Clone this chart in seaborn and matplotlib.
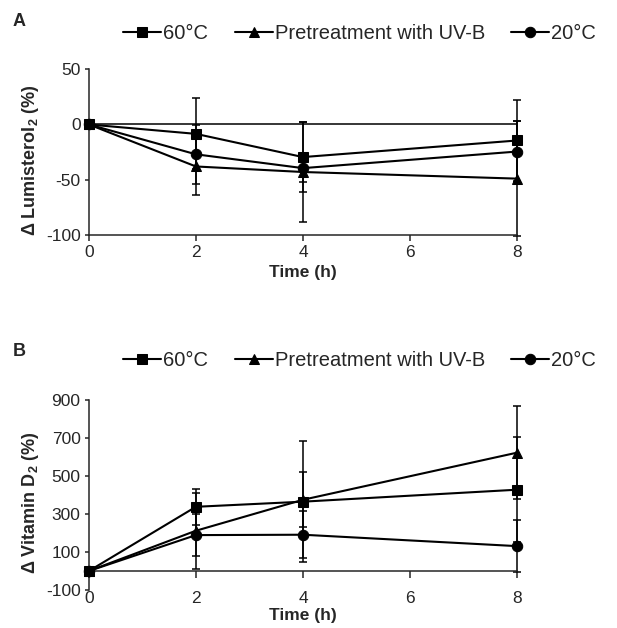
import numpy as np
import pandas as pd
import matplotlib
matplotlib.use('Agg')
import matplotlib.pyplot as plt
import seaborn as sns

times = [0, 2, 4, 8]
series = ['60°C', 'Pretreatment with UV-B', '20°C']

# panel A: change of lumisterol2 (%)
lumi_60 = [0, -8.5, -29.5, -14.5]
lumi_60_err = [0, 32, 31.5, 37]
lumi_uvb = [0, -38, -43, -49]
lumi_uvb_err = [0, 26, 45, 52]
lumi_20 = [0, -27, -39.5, -24.5]
lumi_20_err = [0, 26.5, 13, 28]

# panel B: change of vitamin D2 (%)
vitd_60 = [0, 338, 365, 428]
vitd_60_err = [0, 95, 318, 275]
vitd_uvb = [0, 212, 375, 623]
vitd_uvb_err = [0, 200, 145, 246]
vitd_20 = [0, 189, 191, 131]
vitd_20_err = [0, 109, 125, 136]

sns.set_style('ticks')
plt.rcParams['font.family'] = ['Liberation Sans', 'DejaVu Sans']
plt.rcParams['axes.unicode_minus'] = False
plt.rcParams['mathtext.fontset'] = 'custom'
plt.rcParams['mathtext.rm'] = 'Liberation Sans'
plt.rcParams['mathtext.bf'] = 'Liberation Sans:bold'

markers = {'60°C': 's', 'Pretreatment with UV-B': '^', '20°C': 'o'}


def long_df(vals, errs):
    rows = []
    for name, v, e in zip(series, vals, errs):
        for t, y, err in zip(times, v, e):
            rows.append({'time': t, 'value': y, 'err': err, 'series': name})
    return pd.DataFrame(rows)


def draw_panel(ax, df):
    for name in series:
        sub = df[df['series'] == name]
        ax.errorbar(sub['time'], sub['value'], yerr=sub['err'], fmt='none',
                    ecolor='black', elinewidth=1.1, capsize=3.2, capthick=1.1,
                    clip_on=False, zorder=2)
    sns.lineplot(data=df, x='time', y='value', style='series', style_order=series,
                 markers=markers, dashes=False, color='black', linewidth=1.5,
                 markersize=7.5, markeredgecolor='black', errorbar=None,
                 ax=ax, clip_on=False, zorder=3)
    for s in ['top', 'right']:
        ax.spines[s].set_visible(False)
    for s in ['left', 'bottom']:
        ax.spines[s].set_linewidth(1.1)
    ax.set_xlim(0, 8)
    ax.set_xticks([0, 2, 4, 6, 8])
    ax.tick_params(axis='y', direction='out', length=3, width=1.1, labelsize=12.5, pad=3)
    handles, labels = ax.get_legend_handles_labels()
    ax.get_legend().remove()
    return handles, labels


fig = plt.figure(figsize=(6.17, 6.28), dpi=100)

axA = fig.add_axes([0.144, 0.6258, 0.694, 0.264])
dfA = long_df([lumi_60, lumi_uvb, lumi_20], [lumi_60_err, lumi_uvb_err, lumi_20_err])
hA, lA = draw_panel(axA, dfA)
axA.axhline(0, color='black', linewidth=1.1, zorder=1)
axA.set_ylim(-100, 50)
axA.set_yticks([-100, -50, 0, 50])
axA.tick_params(axis='x', direction='out', length=4, width=1.1, labelsize=12.5, pad=3)
axA.set_xlabel('Time (h)', fontsize=12.5, fontweight='bold')
axA.xaxis.set_label_coords(0.5, -0.18)
axA.set_ylabel('Δ Lumisterol$_{\\mathbf{2}}$ (%)', fontsize=13, fontweight='bold')
axA.yaxis.set_label_coords(-0.112, 0.45)
fig.legend(hA, lA, loc='center', bbox_to_anchor=(0.583, 0.947), ncol=3, frameon=False,
           fontsize=14.5, handlelength=1.9, handletextpad=0.1, columnspacing=1.3)
fig.text(0.02, 0.965, 'A', fontsize=13, fontweight='bold', ha='left', va='center')

axB = fig.add_axes([0.144, 0.0605, 0.694, 0.3025])
dfB = long_df([vitd_60, vitd_uvb, vitd_20], [vitd_60_err, vitd_uvb_err, vitd_20_err])
hB, lB = draw_panel(axB, dfB)
axB.set_ylim(-100, 900)
axB.set_yticks(np.arange(-100, 901, 200))
axB.spines['bottom'].set_position(('data', 0))
axB.tick_params(axis='x', direction='out', length=5, width=1.1, labelsize=12.5, pad=9.5)
axB.set_xlabel('Time (h)', fontsize=12.5, fontweight='bold')
axB.xaxis.set_label_coords(0.5, -0.095)
axB.set_ylabel('Δ Vitamin D$_{\\mathbf{2}}$ (%)', fontsize=13, fontweight='bold')
axB.yaxis.set_label_coords(-0.112, 0.46)
fig.legend(hB, lB, loc='center', bbox_to_anchor=(0.583, 0.426), ncol=3, frameon=False,
           fontsize=14.5, handlelength=1.9, handletextpad=0.1, columnspacing=1.3)
fig.text(0.02, 0.44, 'B', fontsize=13, fontweight='bold', ha='left', va='center')

fig.savefig('out.png', dpi=100)
